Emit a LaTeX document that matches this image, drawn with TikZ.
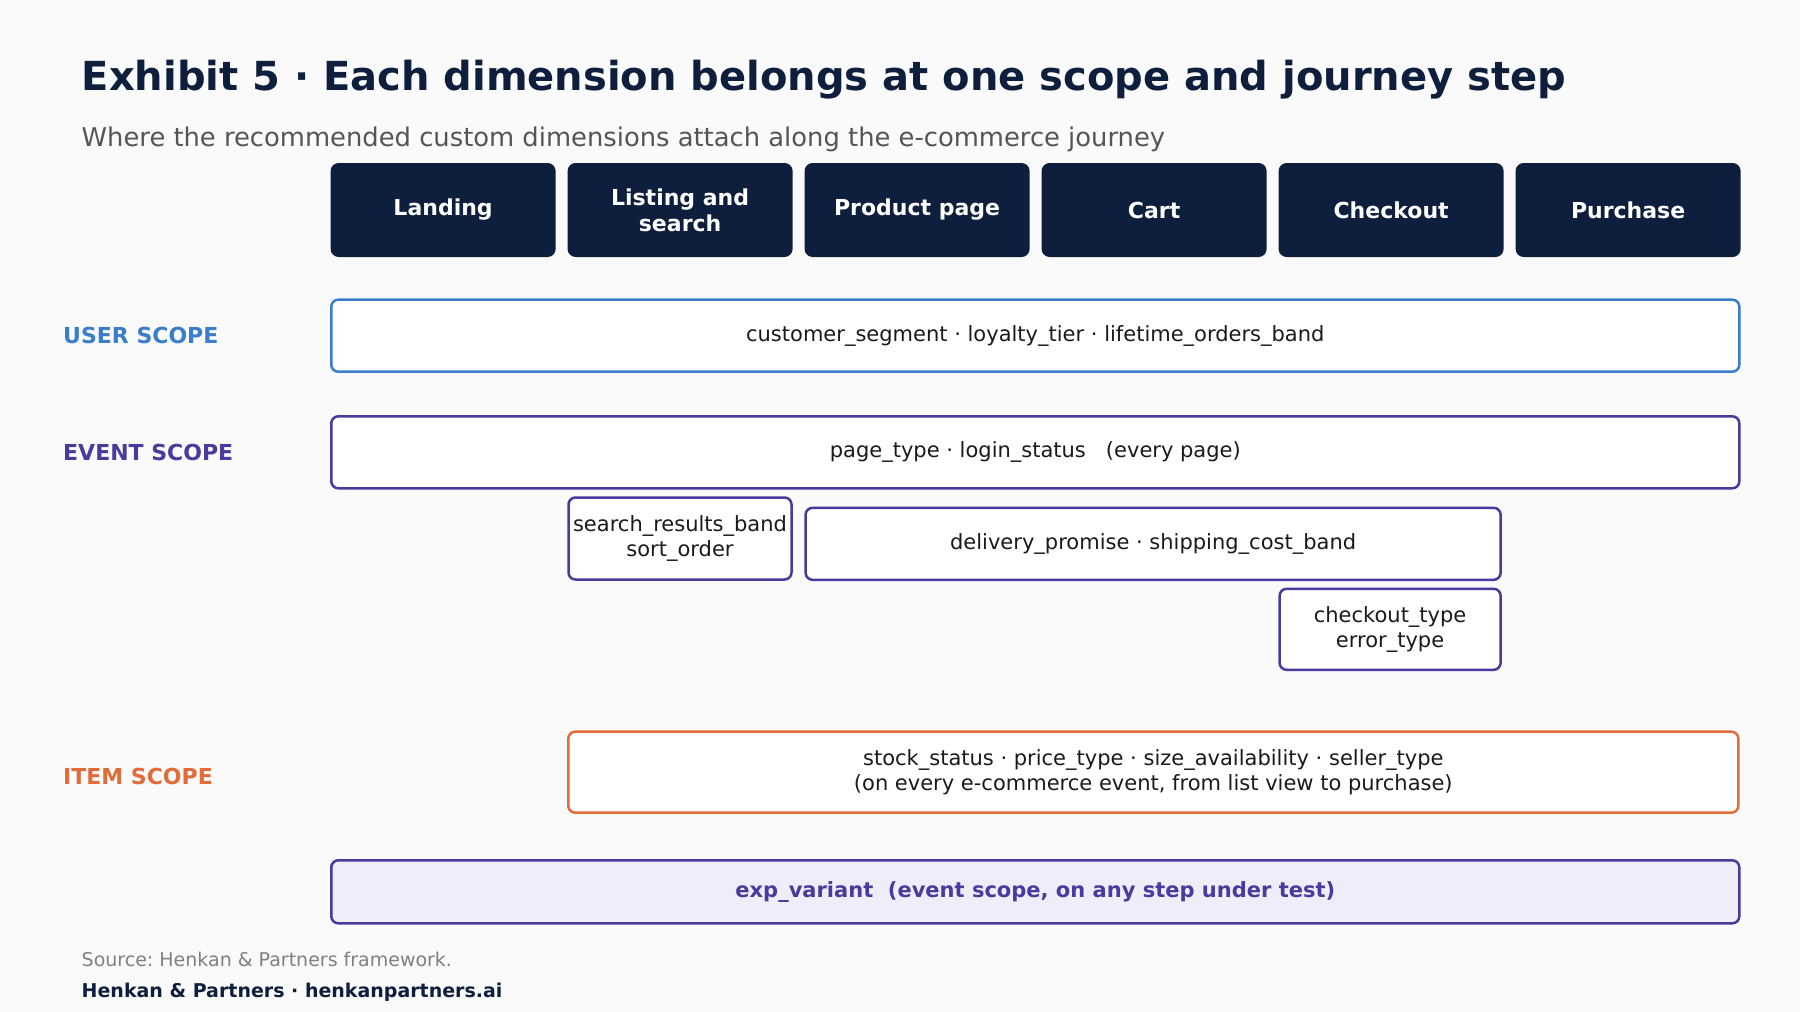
\documentclass[tikz,border=0pt]{standalone}
\usepackage{fontspec}
\setmainfont{DejaVu Sans}
\frenchspacing
\definecolor{bgc}{HTML}{FAFAFA}
\definecolor{navy}{HTML}{0D1F3C}
\definecolor{userc}{HTML}{3A7DC9}
\definecolor{eventc}{HTML}{4A3A9E}
\definecolor{itemc}{HTML}{E06C3A}
\definecolor{txt}{HTML}{1A1A1A}
\definecolor{subc}{HTML}{555555}
\definecolor{srcc}{HTML}{808080}
\definecolor{expfill}{HTML}{EFEDF9}
\begin{document}
\begin{tikzpicture}[x=1pt,y=-1pt,
  stepbox/.style={fill=navy,rounded corners=8pt,minimum width=225pt,minimum height=94pt,inner sep=0pt,
    text=white,font=\fontsize{22}{26.4}\selectfont\bfseries,align=center},
  scopelabel/.style={anchor=west,inner sep=0pt,font=\fontsize{22}{26}\selectfont\bfseries},
  dimbox/.style={draw,line width=2.5pt,rounded corners=7pt,fill=white,inner sep=0pt,text=txt,
    font=\fontsize{21}{25.2}\selectfont,align=center},
]
\useasboundingbox (0,0) rectangle (1800,1012);
\fill[bgc] (0,0) rectangle (1800,1012);

% title
\node[anchor=base west,inner sep=0pt,text=navy,font=\fontsize{40}{46}\selectfont\bfseries] (title) at (81.5,90)
  {Exhibit 5 · Each dimension belongs at one scope and journey step};
\node[anchor=base west,inner sep=0pt,text=subc,font=\fontsize{25.8}{30}\selectfont] (subtitle) at (81.5,146)
  {Where the recommended custom dimensions attach along the e-commerce journey};

% journey steps
\node[stepbox] (s1) at (443.1,210) {Landing};
\node[stepbox] (s2) at (680.1,210) {Listing and\\search};
\node[stepbox] (s3) at (917.1,210) {Product page};
\node[stepbox] (s4) at (1154.1,210) {Cart};
\node[stepbox] (s5) at (1391.1,210) {Checkout};
\node[stepbox] (s6) at (1628.1,210) {Purchase};

% scope labels
\node[scopelabel,text=userc] (luser) at (63,335.5) {USER SCOPE};
\node[scopelabel,text=eventc] (levent) at (63,452) {EVENT SCOPE};
\node[scopelabel,text=itemc] (litem) at (63,776.5) {ITEM SCOPE};

% user scope
\node[dimbox,draw=userc,minimum width=1408pt,minimum height=72pt] (user) at (1035.3,335.7)
  {customer\_segment · loyalty\_tier · lifetime\_orders\_band};

% event scope
\node[dimbox,draw=eventc,minimum width=1408pt,minimum height=72pt] (event) at (1035.3,452.3)
  {page\_type · login\_status\ \ \ (every page)};
\node[dimbox,draw=eventc,minimum width=223pt,minimum height=82pt] (search) at (680,538.5)
  {search\_results\_band\\sort\_order};
\node[dimbox,draw=eventc,minimum width=695pt,minimum height=72pt] (delivery) at (1153.1,543.8)
  {delivery\_promise · shipping\_cost\_band};
\node[dimbox,draw=eventc,minimum width=221pt,minimum height=81pt] (checkout) at (1390.1,629.3)
  {checkout\_type\\error\_type};

% item scope
\node[dimbox,draw=itemc,minimum width=1170pt,minimum height=81pt] (item) at (1153.3,772.2)
  {stock\_status · price\_type · size\_availability · seller\_type\\(on every e-commerce event, from list view to purchase)};

% experiment
\node[dimbox,draw=eventc,fill=expfill,text=eventc,font=\fontsize{21}{25.2}\selectfont\bfseries,
  minimum width=1408pt,minimum height=63pt] (exp) at (1035.3,891.8)
  {exp\_variant\ \ (event scope, on any step under test)};

% footer
\node[anchor=base west,inner sep=0pt,text=srcc,font=\fontsize{19}{23}\selectfont] (source) at (81.5,966)
  {Source: Henkan \& Partners framework.};
\node[anchor=base west,inner sep=0pt,text=navy,font=\fontsize{19}{23}\selectfont\bfseries] (brand) at (81.5,997)
  {Henkan \& Partners · henkanpartners.ai};
\end{tikzpicture}
\end{document}
